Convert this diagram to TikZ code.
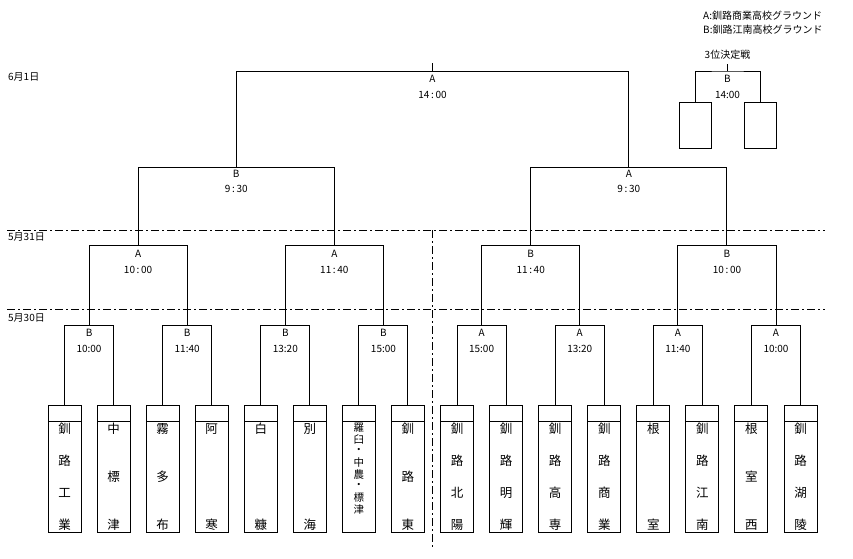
\documentclass[tikz,border=0pt]{standalone}
\usepackage{fontspec}
\newfontfamily\jp{Noto Sans CJK JP}
\newcommand\tname[3]{\foreach \c [count=\k] in {#3} {\node[nm] (c#1-\k) at ({64.5+49.07*#1},{429+(\k-1)*96/(#2-1)}) {\c};}}
\begin{document}
\begin{tikzpicture}[x=1pt,y=-1pt,
  every node/.style={font=\jp\fontsize{10}{11}\selectfont, inner sep=0pt},
  ln/.style={line width=1pt},
  team/.style={draw, line width=1pt, minimum width=33pt, minimum height=127pt, anchor=north,
    path picture={\draw[line width=1pt] ([yshift=-16pt]path picture bounding box.north west) -- ([yshift=-16pt]path picture bounding box.north east);}},
  nm/.style={font=\jp\fontsize{12.5}{13}\selectfont},
  lbl/.style={font=\jp\fontsize{10}{11}\selectfont},
  day/.style={font=\jp\fontsize{10}{11}\selectfont, anchor=west},
  dd/.style={line width=1pt, dash pattern=on 8pt off 3pt on 2pt off 3pt}]
\useasboundingbox (0,0) rectangle (853,558);
% teams
\foreach \i in {0,...,15} \node[team] (t\i) at ({64.5+49.07*\i},405) {};
\tname{0}{4}{釧,路,工,業}
\tname{1}{3}{中,標,津}
\tname{2}{3}{霧,多,布}
\tname{3}{2}{阿,寒}
\tname{4}{2}{白,糠}
\tname{5}{2}{別,海}
\tname{7}{3}{釧,路,東}
\tname{8}{4}{釧,路,北,陽}
\tname{9}{4}{釧,路,明,輝}
\tname{10}{4}{釧,路,高,専}
\tname{11}{4}{釧,路,商,業}
\tname{12}{2}{根,室}
\tname{13}{4}{釧,路,江,南}
\tname{14}{3}{根,室,西}
\tname{15}{4}{釧,路,湖,陵}
\foreach \c [count=\k] in {羅,臼,・,中,農,・,標,津}
  \node[font=\jp\fontsize{10.5}{11}\selectfont] (c6-\k) at ({64.5+49.07*6},{427.3+(\k-1)*11.7}) {\c};
% round coordinates
\foreach \j in {0,...,7} \coordinate (m\j) at ({64.5+49.07*(2*\j+0.5)},325);
\foreach \j in {0,...,3} \coordinate (n\j) at ({64.5+49.07*(4*\j+1.5)},245.7);
\foreach \j in {0,1} \coordinate (p\j) at ({64.5+49.07*(8*\j+3.5)},167.3);
\coordinate (f) at ({64.5+49.07*7.5},71.7);
\coordinate (ftop) at ({64.5+49.07*7.5},63);
% connectors
\foreach \j [evaluate=\j as \a using int(2*\j), evaluate=\j as \b using int(2*\j+1)] in {0,...,7}
  \draw[ln] (t\a.north) |- (m\j) -| (t\b.north);
\foreach \j [evaluate=\j as \a using int(2*\j), evaluate=\j as \b using int(2*\j+1)] in {0,...,3}
  \draw[ln] (m\a) |- (n\j) -| (m\b);
\foreach \j [evaluate=\j as \a using int(2*\j), evaluate=\j as \b using int(2*\j+1)] in {0,1}
  \draw[ln] (n\a) |- (p\j) -| (n\b);
\draw[ln] (p0) |- (f) -| (p1);
\draw[ln] (f) -- (ftop);
% labels
\foreach \j/\g/\t in {0/B/10:00,1/B/11:40,2/B/13:20,3/B/15:00,4/A/15:00,5/A/13:20,6/A/11:40,7/A/10:00}{
  \path (m\j) ++(0,8) node[lbl] (mg\j) {\g};
  \path (m\j) ++(0,24) node[lbl] (mt\j) {\t};}
\foreach \j/\g/\t in {0/A/10\,:\,00,1/A/11\,:\,40,2/B/11\,:\,40,3/B/10\,:\,00}{
  \path (n\j) ++(0,8) node[lbl] (ng\j) {\g};
  \path (n\j) ++(0,24) node[lbl] (nt\j) {\t};}
\foreach \j/\g/\t in {0/B/9\,:\,30,1/A/9\,:\,30}{
  \path (p\j) ++(0,7) node[lbl] (pg\j) {\g};
  \path (p\j) ++(0,22) node[lbl] (pt\j) {\t};}
\path (f) ++(0,7.5) node[lbl] (fg) {A};
\path (f) ++(0,23.5) node[lbl] (ft) {14\,:\,00};
% third place
\node[draw, ln, minimum width=32pt, minimum height=46.6pt, anchor=north] (q0) at (695.8,101.7) {};
\node[draw, ln, minimum width=32pt, minimum height=46.6pt, anchor=north] (q1) at (760,101.7) {};
\coordinate (q) at (727.5,71);
\coordinate (qtop) at (727.5,64);
\draw[ln] (q0.north) |- (q) -| (q1.north);
\draw[ln] (q) -- (qtop);
\node[lbl] (qt) at (727.5,55) {3位決定戦};
\node[lbl] (qg) at (727.5,78.7) {B};
\node[lbl] (qh) at (727.5,95) {14:00};
% legend
\node[lbl, anchor=west] (lega) at (703,16) {A:釧路商業高校グラウンド};
\node[lbl, anchor=west] (legb) at (703,29.3) {B:釧路江南高校グラウンド};
% days
\node[day] (d1) at (8,77) {6月1日};
\node[day] (d2) at (8,237.3) {5月31日};
\node[day] (d3) at (8,318.3) {5月30日};
% dashed lines
\coordinate (h1a) at (7,230.3); \coordinate (h1b) at (825,230.3);
\coordinate (h2a) at (7,309.3); \coordinate (h2b) at (825,309.3);
\coordinate (v1) at (432.7,230.3); \coordinate (v2) at (432.7,548);
\draw[dd] (h1a) -- (h1b);
\draw[dd] (h2a) -- (h2b);
\draw[dd] (v1) -- (v2);
\end{tikzpicture}
\end{document}
